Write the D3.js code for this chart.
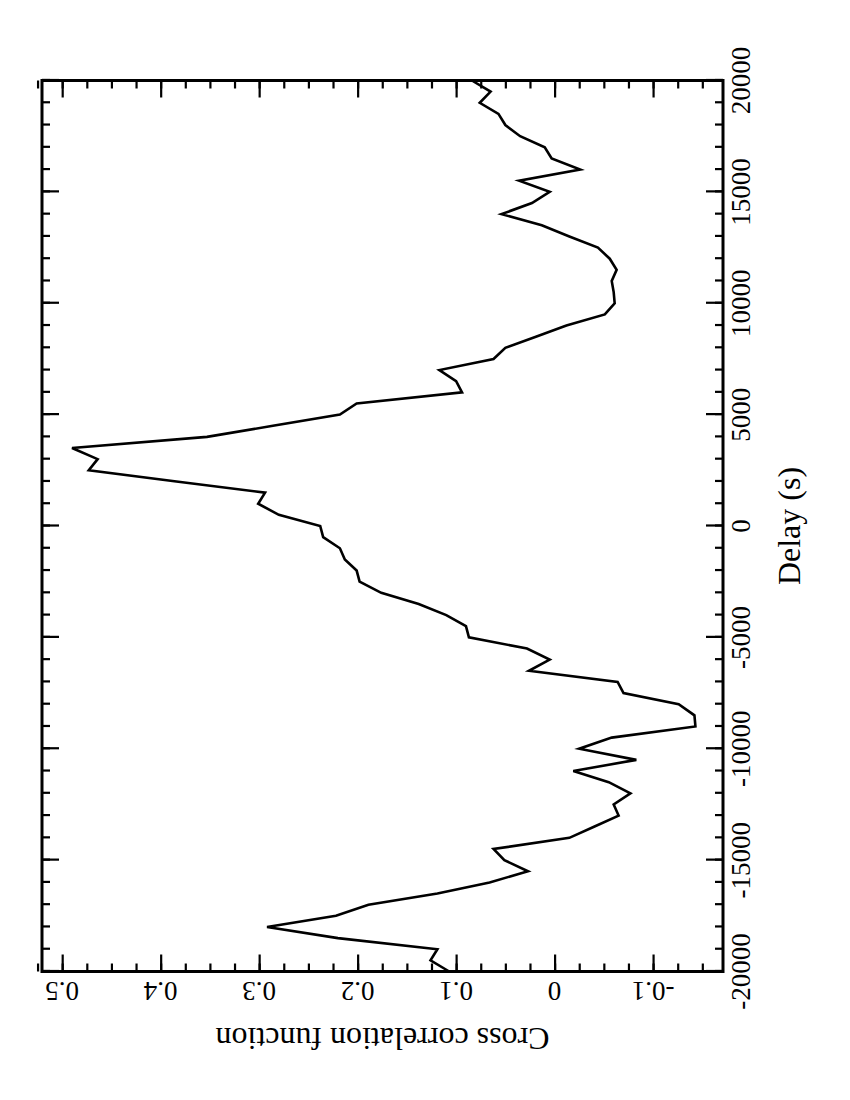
<!DOCTYPE html>
<html>
<head>
<meta charset="utf-8">
<script src="https://cdn.jsdelivr.net/npm/d3@7"></script>
<style>
html,body{margin:0;padding:0;background:#fff;}
svg{display:block;}
text{font-family:"Liberation Serif","Times New Roman",serif;fill:#000;}
</style>
</head>
<body>
<svg id="chart" width="850" height="1100"></svg>
<script>
const delays = [-20000,-19500,-19000,-18500,-18000,-17500,-17000,-16500,-16000,-15500,
  -15000,-14500,-14000,-13500,-13000,-12500,-12000,-11500,-11000,-10500,
  -10000,-9500,-9000,-8500,-8000,-7500,-7000,-6500,-6000,-5500,
  -5000,-4500,-4000,-3500,-3000,-2500,-2000,-1500,-1000,-500,
  0,500,1000,1500,2000,2500,3000,3500,4000,4500,
  5000,5500,6000,6500,7000,7500,8000,8500,9000,9500,
  10000,10500,11000,11500,12000,12500,13000,13500,14000,14500,
  15000,15500,16000,16500,17000,17500,18000,18500,19000,19500,20000];
const ccf = [0.107,0.126,0.119,0.220,0.292,0.222,0.189,0.119,0.066,0.027,
  0.051,0.062,-0.015,-0.040,-0.065,-0.060,-0.077,-0.055,-0.019,-0.083,
  -0.025,-0.058,-0.143,-0.142,-0.126,-0.070,-0.064,0.026,0.005,0.028,
  0.087,0.090,0.110,0.138,0.176,0.198,0.201,0.213,0.218,0.235,
  0.238,0.280,0.301,0.294,0.384,0.473,0.464,0.490,0.353,0.286,
  0.218,0.201,0.094,0.100,0.117,0.062,0.050,0.019,-0.012,-0.051,
  -0.061,-0.060,-0.058,-0.063,-0.056,-0.044,-0.015,0.013,0.054,0.023,
  0.005,0.036,-0.026,0.003,0.010,0.035,0.050,0.057,0.076,0.065,0.084];
const delayTicks = [-20000,-15000,-10000,-5000,0,5000,10000,15000,20000];
const delayLabels = ["-20000","-15000","-10000","-5000","0","5000","10000","15000","20000"];
const ccfTicks = [-0.1,0,0.1,0.2,0.3,0.4,0.5];
const ccfLabels = ["-0.1","0","0.1","0.2","0.3","0.4","0.5"];
const xTitle = "Delay (s)";
const yTitle = "Cross correlation function";

const svg = d3.select("#chart");
const W = 891, H = 681;        // landscape frame, rotated onto the page
const ox = 42, oy = 971.5;     // page position of the frame's lower-left (after rotation)

const x = d3.scaleLinear().domain([-20000, 20000]).range([0, W]);
const y = d3.scaleLinear().domain([-0.171, 0.5205]).range([H, 0]);

const g = svg.append("g").attr("transform", `translate(${ox},${oy}) rotate(-90)`);

const minorX = d3.range(-20000, 20001, 1000);
const minorY = d3.range(-0.15, 0.5251, 0.025);

function axisStyle(sel){
  sel.select(".domain").remove();
  sel.selectAll("line").attr("stroke","#000").attr("stroke-width",2.2);
  sel.selectAll("text").remove();
}
// bottom (delay) axis, inward ticks
g.append("g").attr("transform",`translate(0,${H})`)
  .call(d3.axisBottom(x).tickValues(minorX).tickSize(-8)).call(axisStyle);
g.append("g").attr("transform",`translate(0,${H})`)
  .call(d3.axisBottom(x).tickValues(delayTicks).tickSize(-17)).call(axisStyle);
// top
g.append("g").call(d3.axisTop(x).tickValues(minorX).tickSize(-8)).call(axisStyle);
g.append("g").call(d3.axisTop(x).tickValues(delayTicks).tickSize(-17)).call(axisStyle);
// left (ccf)
g.append("g").call(d3.axisLeft(y).tickValues(minorY).tickSize(-8)).call(axisStyle);
g.append("g").call(d3.axisLeft(y).tickValues(ccfTicks).tickSize(-17)).call(axisStyle);
// right
g.append("g").attr("transform",`translate(${W},0)`)
  .call(d3.axisRight(y).tickValues(minorY).tickSize(-8)).call(axisStyle);
g.append("g").attr("transform",`translate(${W},0)`)
  .call(d3.axisRight(y).tickValues(ccfTicks).tickSize(-17)).call(axisStyle);

// frame
g.append("rect").attr("x",0).attr("y",0).attr("width",W).attr("height",H)
  .attr("fill","none").attr("stroke","#000").attr("stroke-width",3);

// data line
const pts = delays.map((d,i)=>[d, ccf[i]]);
g.append("path").datum(pts)
  .attr("fill","none").attr("stroke","#000").attr("stroke-width",2.6)
  .attr("stroke-linejoin","miter")
  .attr("d", d3.line().x(d=>x(d[0])).y(d=>y(d[1])));

// labels at page level
const lab = svg.append("g");
// delay tick labels (rotated -90 on the page)
lab.selectAll("text.dl").data(delayTicks).enter().append("text")
  .attr("class","dl")
  .attr("transform", d=>`translate(750,${oy - x(d)}) rotate(-90)`)
  .attr("text-anchor","middle").attr("font-size",27)
  .text((d,i)=>delayLabels[i]);
// ccf tick labels (upside down)
lab.selectAll("text.cl").data(ccfTicks).enter().append("text")
  .attr("class","cl")
  .attr("transform", d=>`translate(${ox + y(d)},982) rotate(180)`)
  .attr("text-anchor","middle").attr("font-size",27)
  .text((d,i)=>ccfLabels[i]);
// titles
lab.append("text")
  .attr("transform",`translate(800,${oy - W/2}) rotate(-90)`)
  .attr("text-anchor","middle").attr("font-size",32).text(xTitle);
lab.append("text")
  .attr("transform",`translate(${ox + H/2},1028) rotate(180)`)
  .attr("text-anchor","middle").attr("font-size",32).text(yTitle);
</script>
</body>
</html>
